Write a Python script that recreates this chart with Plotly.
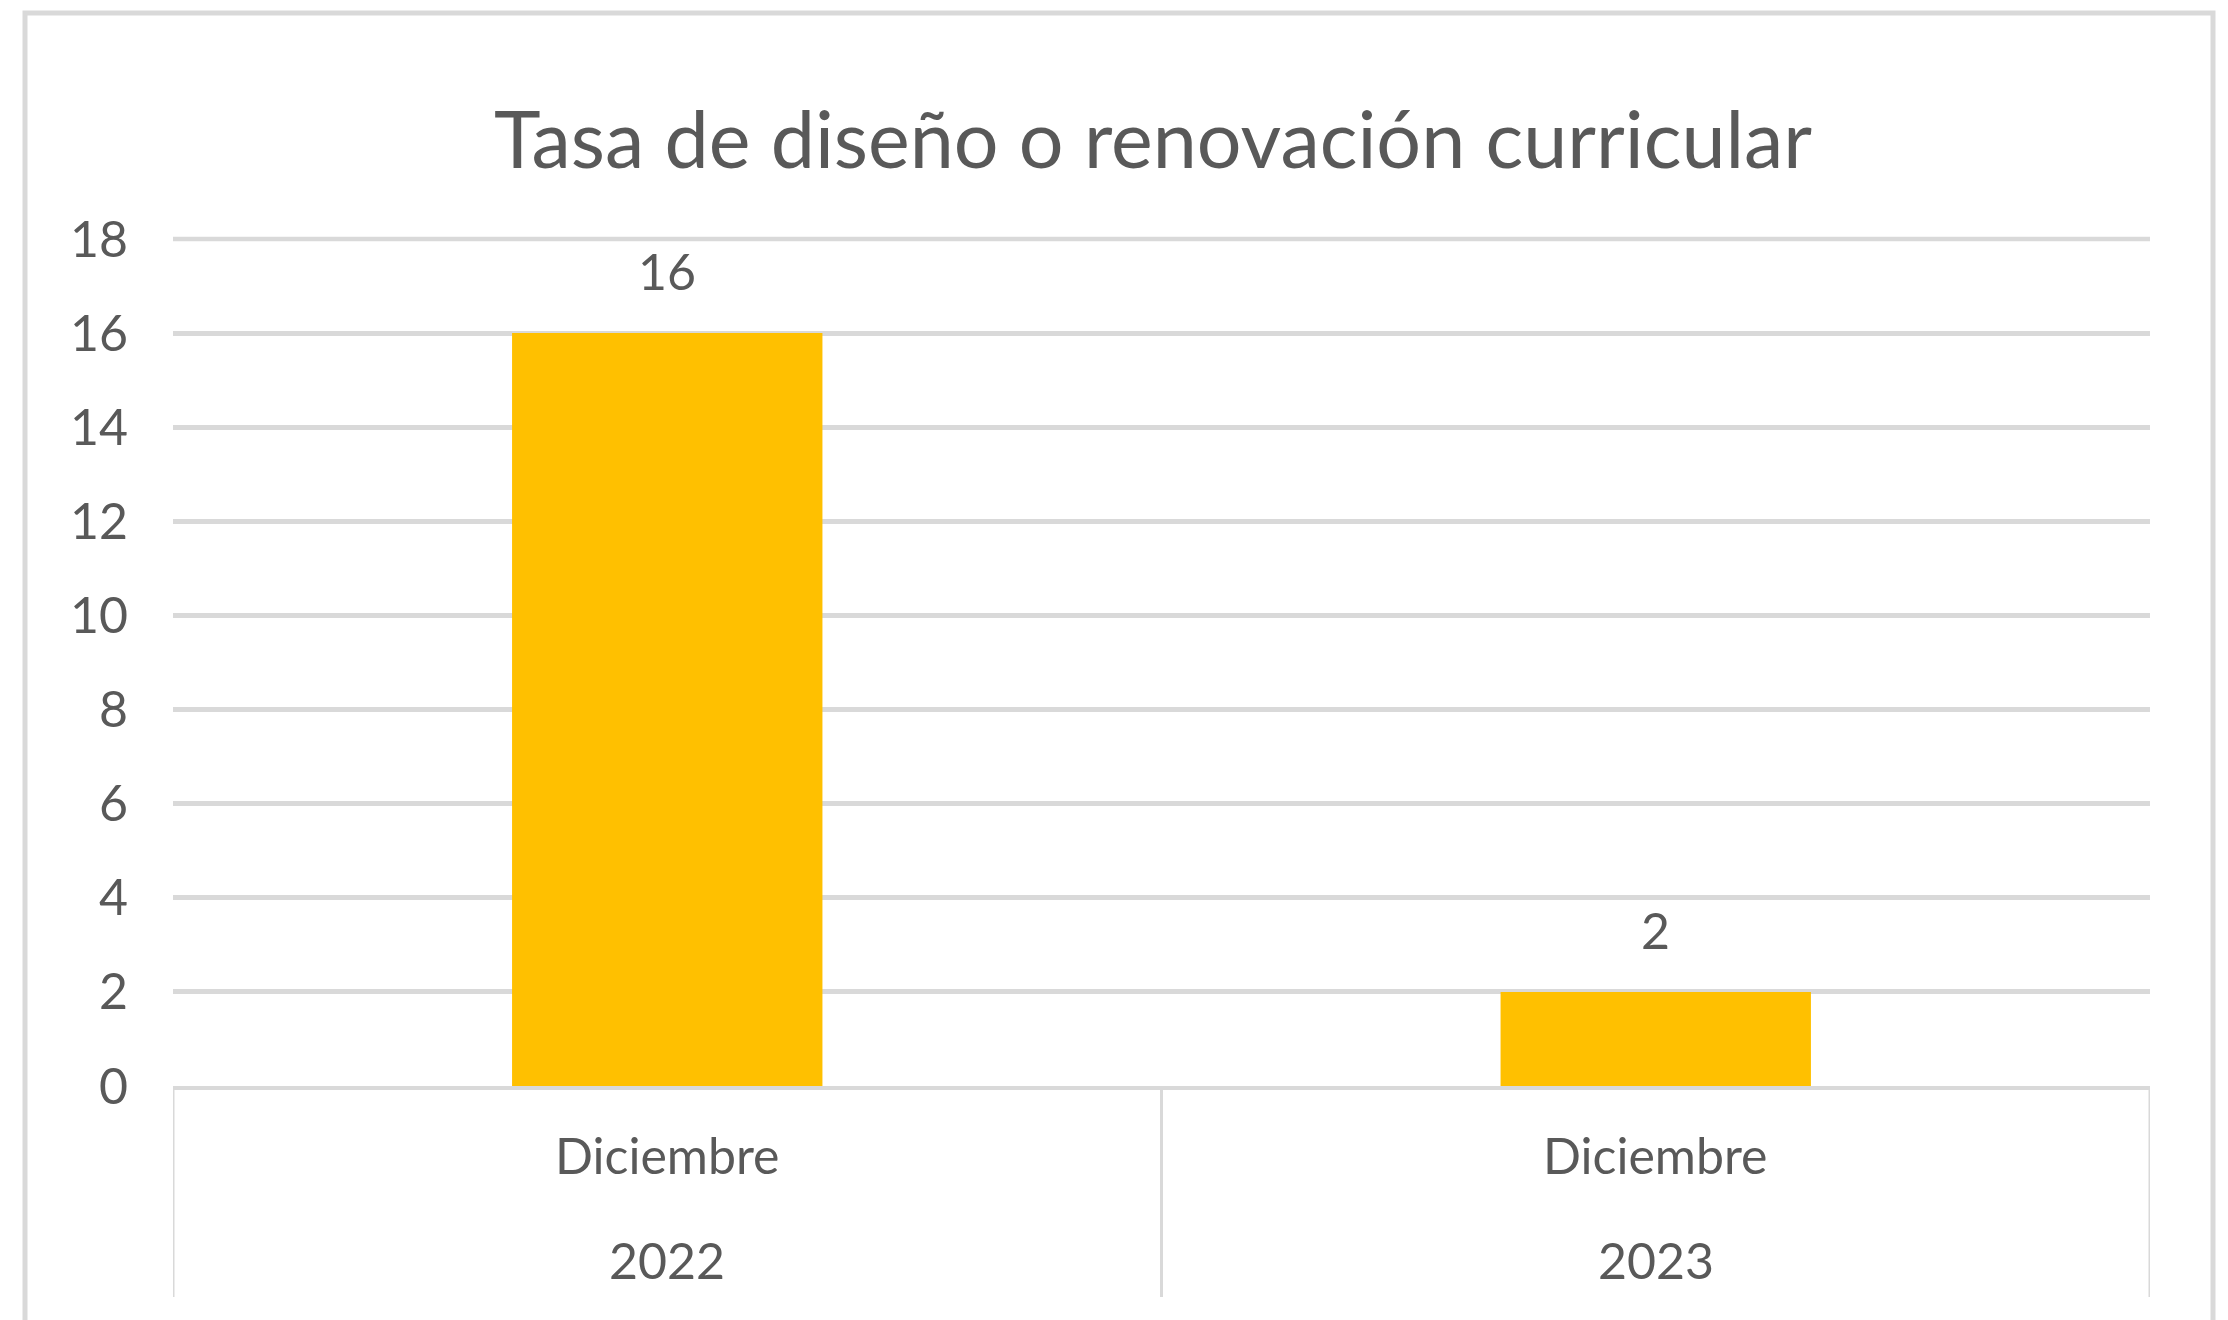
import plotly.graph_objects as go

# ---- data ----
months = ["Diciembre", "Diciembre"]
years = ["2022", "2023"]
values = [16, 2]
y_ticks = [0, 2, 4, 6, 8, 10, 12, 14, 16, 18]
title_text = "Tasa de diseño o renovación curricular"

cats = [f"{m} {y}" for m, y in zip(months, years)]

TXT = "#595959"
GRID = "#D9D9D9"
BAR = "#FFC000"
FONT = "Lato"

W, H = 2228, 1320
L, R, T, B = 173, 78, 239, 234

fig = go.Figure()
fig.add_trace(go.Bar(x=cats, y=values, marker=dict(color=BAR, line=dict(width=0)),
                     hoverinfo="skip"))

# data labels
for c, v in zip(cats, values):
    fig.add_annotation(x=c, y=v, xref="x", yref="y", text=str(v), showarrow=False,
                       yanchor="middle", yshift=62,
                       font=dict(family=FONT, size=50, color=TXT))

# two-level category labels
plot_h = H - T - B
for c, m, yv in zip(cats, months, years):
    fig.add_annotation(x=c, xref="x", yref="paper", y=-(1155 - (H - B)) / plot_h,
                       text=m, showarrow=False, yanchor="middle",
                       font=dict(family=FONT, size=50, color=TXT))
    fig.add_annotation(x=c, xref="x", yref="paper", y=-(1260 - (H - B)) / plot_h,
                       text=yv, showarrow=False, yanchor="middle",
                       font=dict(family=FONT, size=50, color=TXT))

# category divider lines
for xv in [-0.5, 0.5, 1.5]:
    fig.add_shape(type="line", xref="x", yref="paper", x0=xv, x1=xv,
                  y0=0, y1=-(1297 - (H - B)) / plot_h,
                  line=dict(color=GRID, width=3), layer="below")

# top gridline (Plotly drops gridlines on the plot edge); top of y range = last tick
fig.add_shape(type="line", xref="paper", yref="paper", x0=0, x1=1,
              y0=1, y1=1, line=dict(color=GRID, width=4.5), layer="below")

# outer chart border
plot_w = W - L - R
fig.add_shape(type="rect", xref="paper", yref="paper",
              x0=(25 - L) / plot_w, x1=(2213 - L) / plot_w,
              y0=-(1340 - (H - B)) / plot_h, y1=1 + (T - 13) / plot_h,
              line=dict(color=GRID, width=5), fillcolor="rgba(0,0,0,0)", layer="below")

fig.update_layout(
    width=W, height=H,
    margin=dict(l=L, r=R, t=T, b=B, autoexpand=False),
    paper_bgcolor="white", plot_bgcolor="white",
    showlegend=False, bargap=0.686,
    title=dict(text=title_text, x=1153 / W, xanchor="center", xref="container",
               y=1 - 140 / H, yanchor="middle", yref="container",
               font=dict(family=FONT, size=79, color=TXT)),
    font=dict(family=FONT, color=TXT),
)
fig.update_xaxes(type="category", showticklabels=False, showgrid=False,
                 showline=True, linecolor=GRID, linewidth=4, ticks="",
                 range=[-0.5, 1.5], zeroline=False)
fig.update_yaxes(range=[y_ticks[0], y_ticks[-1]], tickvals=y_ticks, showgrid=True,
                 gridcolor=GRID, gridwidth=4.5, zeroline=False, showline=False,
                 ticks="", ticklabelstandoff=44,
                 tickfont=dict(family=FONT, size=50, color=TXT))

fig.write_html("out.html", config={"displayModeBar": False},
               post_script="document.body.style.margin='0';")
